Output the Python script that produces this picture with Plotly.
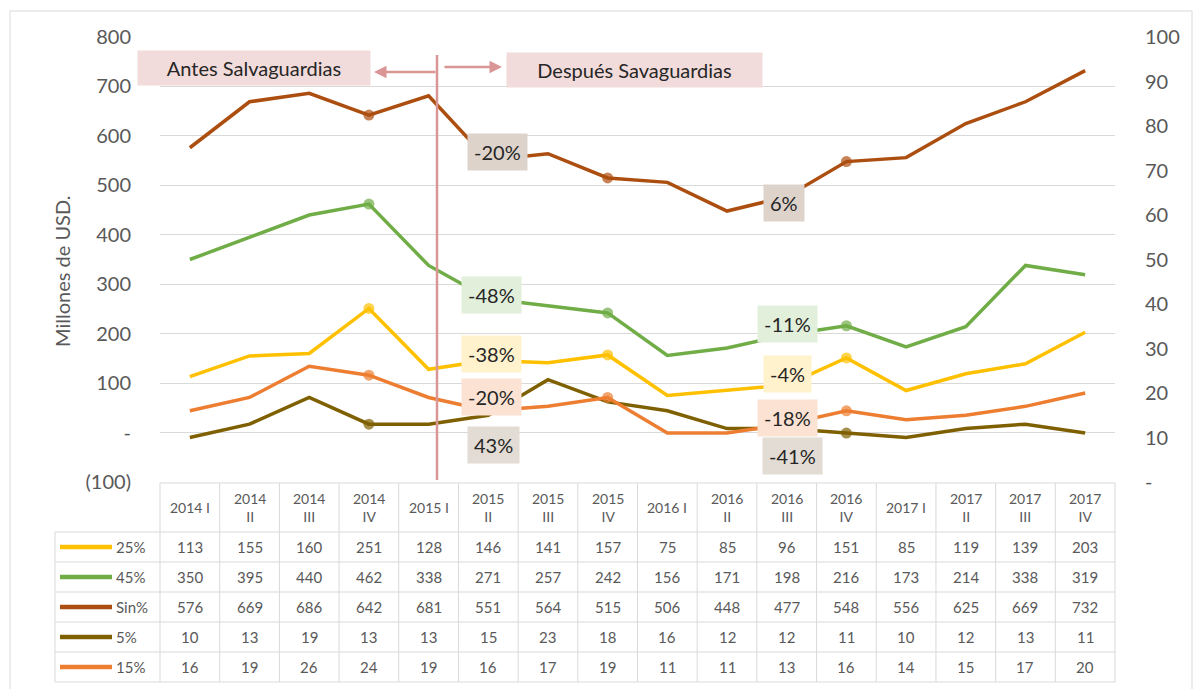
import plotly.graph_objects as go

# ---------------- data ----------------
years = ["2014", "2014", "2014", "2014", "2015", "2015", "2015", "2015",
         "2016", "2016", "2016", "2016", "2017", "2017", "2017", "2017"]
quarters = ["I", "II", "III", "IV"] * 4
series_names = ["25%", "45%", "Sin%", "5%", "15%"]
s25 = [113, 155, 160, 251, 128, 146, 141, 157, 75, 85, 96, 151, 85, 119, 139, 203]
s45 = [350, 395, 440, 462, 338, 271, 257, 242, 156, 171, 198, 216, 173, 214, 338, 319]
s_sin = [576, 669, 686, 642, 681, 551, 564, 515, 506, 448, 477, 548, 556, 625, 669, 732]
s5 = [10, 13, 19, 13, 13, 15, 23, 18, 16, 12, 12, 11, 10, 12, 13, 11]
s15 = [16, 19, 26, 24, 19, 16, 17, 19, 11, 11, 13, 16, 14, 15, 17, 20]
left_ticks = [-100, 0, 100, 200, 300, 400, 500, 600, 700, 800]
left_ticktext = ["(100)", "-", "100", "200", "300", "400", "500", "600", "700", "800"]
right_ticks = [0, 10, 20, 30, 40, 50, 60, 70, 80, 90, 100]
right_ticktext = ["-", "10", "20", "30", "40", "50", "60", "70", "80", "90", "100"]
pct_labels_before = ["-20%", "-48%", "-38%", "-20%", "43%"]   # Sin%, 45%, 25%, 15%, 5%
pct_labels_after = ["6%", "-11%", "-4%", "-18%", "-41%"]

# ---------------- styling ----------------
W, H = 1200, 689
FONT = "Lato"
GRAY = "#595959"
colors = {"25%": "#FFC000", "45%": "#70AD47", "Sin%": "#AC4E0F", "5%": "#7F6000", "15%": "#ED7D31"}
values = {"25%": s25, "45%": s45, "Sin%": s_sin, "5%": s5, "15%": s15}
axis_of = {"25%": "y", "45%": "y", "Sin%": "y", "5%": "y2", "15%": "y2"}
dots = {"25%": [3, 7, 11], "45%": [3, 7, 11], "Sin%": [3, 7, 11], "5%": [3, 11], "15%": [3, 7, 11]}

X0, X1 = 160, 1115      # plot area in px
YT, YB = 37, 482
NC = len(s25)
CW = (X1 - X0) / NC


def fx(p):
    return p / W


def fy(p):
    return 1 - p / H


xs = list(range(NC))
fig = go.Figure()
for name in series_names:
    sizes = [11 if i in dots[name] else 0 for i in xs]
    fig.add_trace(go.Scatter(
        x=xs, y=values[name], name=name, yaxis=axis_of[name],
        mode="lines+markers",
        line=dict(color=colors[name], width=3.5),
        marker=dict(size=sizes, color=colors[name], line=dict(width=0)),
        showlegend=False, hoverinfo="skip"))

shapes = []
annotations = []

# outer border
shapes.append(dict(type="rect", xref="paper", yref="paper", x0=fx(10), x1=fx(1192), y0=fy(700), y1=fy(11),
                   line=dict(color="#d9d9d9", width=1)))

# ----- data table -----
TB_TOP, HDR_BOT = 483, 532
ROW_H = 30
LBL_L = 55
grid = "#d9d9d9"
row_bounds = [HDR_BOT + ROW_H * k for k in range(len(series_names) + 1)]
shapes.append(dict(type="line", xref="paper", yref="paper", x0=fx(X0), x1=fx(X1), y0=fy(TB_TOP), y1=fy(TB_TOP),
                   line=dict(color=grid, width=1)))
for yb in row_bounds:
    shapes.append(dict(type="line", xref="paper", yref="paper", x0=fx(LBL_L), x1=fx(X1), y0=fy(yb), y1=fy(yb),
                       line=dict(color=grid, width=1)))
for c in range(NC + 1):
    xp = X0 + c * CW
    shapes.append(dict(type="line", xref="paper", yref="paper", x0=fx(xp), x1=fx(xp),
                       y0=fy(TB_TOP), y1=fy(row_bounds[-1]), line=dict(color=grid, width=1)))
shapes.append(dict(type="line", xref="paper", yref="paper", x0=fx(LBL_L), x1=fx(LBL_L),
                   y0=fy(HDR_BOT), y1=fy(row_bounds[-1]), line=dict(color=grid, width=1)))

for c in range(NC):
    cx = X0 + (c + 0.5) * CW
    q = quarters[c]
    txt = f"{years[c]} {q}" if q == "I" else f"{years[c]}<br>{q}"
    annotations.append(dict(x=fx(cx), y=fy((TB_TOP + HDR_BOT) / 2), xref="paper", yref="paper",
                            text=txt, showarrow=False, font=dict(family=FONT, size=14, color=GRAY),
                            xanchor="center", yanchor="middle"))
    for r, name in enumerate(series_names):
        cy = row_bounds[r] + ROW_H / 2
        annotations.append(dict(x=fx(cx), y=fy(cy), xref="paper", yref="paper",
                                text=str(values[name][c]), showarrow=False,
                                font=dict(family=FONT, size=15, color=GRAY),
                                xanchor="center", yanchor="middle"))

for r, name in enumerate(series_names):
    cy = row_bounds[r] + ROW_H / 2
    shapes.append(dict(type="line", xref="paper", yref="paper", x0=fx(60), x1=fx(112), y0=fy(cy), y1=fy(cy),
                       line=dict(color=colors[name], width=4.5)))
    annotations.append(dict(x=fx(114), y=fy(cy), xref="paper", yref="paper", text=name, showarrow=False,
                            font=dict(family=FONT, size=15, color=GRAY), xanchor="left", yanchor="middle"))

# ----- safeguard separator -----
SEP = "#D99694"
shapes.append(dict(type="line", xref="paper", yref="paper", x0=fx(437), x1=fx(437), y0=fy(55), y1=fy(480),
                   line=dict(color=SEP, width=2.5)))
annotations.append(dict(x=fx(374), y=fy(72), xref="paper", yref="paper", ax=63, ay=0, axref="pixel", ayref="pixel",
                        text="", showarrow=True, arrowhead=2, arrowsize=1, arrowwidth=2.5, arrowcolor=SEP))
annotations.append(dict(x=fx(502), y=fy(67), xref="paper", yref="paper", ax=-59, ay=0, axref="pixel", ayref="pixel",
                        text="", showarrow=True, arrowhead=2, arrowsize=1, arrowwidth=2.5, arrowcolor=SEP))
annotations.append(dict(x=fx(254), y=fy(68), xref="paper", yref="paper", text="Antes Salvaguardias",
                        showarrow=False, bgcolor="#F2DCDB", width=230, height=32,
                        xanchor="center", yanchor="middle",
                        font=dict(family=FONT, size=20, color="#262626")))
annotations.append(dict(x=fx(634), y=fy(70), xref="paper", yref="paper", text="Después Savaguardias",
                        showarrow=False, bgcolor="#F2DCDB", width=253, height=32,
                        xanchor="center", yanchor="middle",
                        font=dict(family=FONT, size=20, color="#262626")))

# ----- percent change labels -----
lbl_bg = ["#DDD3CB", "#E2EFDA", "#FFF2CC", "#FBE2D2", "#E2DCD4"]
pos_before = [(497, 152), (492, 295), (492, 354), (492, 397), (493, 445)]
pos_after = [(784, 203), (787, 324), (787, 374), (787, 418), (792, 456)]
for k in range(5):
    for txt, (px, py) in ((pct_labels_before[k], pos_before[k]), (pct_labels_after[k], pos_after[k])):
        annotations.append(dict(x=fx(px), y=fy(py), xref="paper", yref="paper", text=txt, showarrow=False,
                                bgcolor=lbl_bg[k], borderpad=6, xanchor="center", yanchor="middle",
                                font=dict(family=FONT, size=20, color="#262626")))

# y axis title
annotations.append(dict(x=fx(62), y=fy(272), xref="paper", yref="paper", text="Millones de USD.",
                        textangle=-90, showarrow=False, xanchor="center", yanchor="middle",
                        font=dict(family=FONT, size=20, color=GRAY)))

fig.update_layout(
    width=W, height=H,
    margin=dict(l=0, r=0, t=0, b=0, autoexpand=False),
    paper_bgcolor="white", plot_bgcolor="white",
    xaxis=dict(domain=[fx(X0), fx(X1)], range=[-0.5, NC - 0.5], showticklabels=False, showgrid=False,
               zeroline=False, showline=False, fixedrange=True),
    yaxis=dict(domain=[fy(YB), fy(YT)], range=[-100, 800], tickvals=left_ticks, ticktext=left_ticktext,
               gridcolor="#d9d9d9", gridwidth=1, zeroline=False, showline=False,
               ticks="outside", ticklen=24, tickcolor="rgba(0,0,0,0)",
               tickfont=dict(family=FONT, size=20, color=GRAY), fixedrange=True),
    yaxis2=dict(overlaying="y", side="right", range=[0, 100], tickvals=right_ticks, ticktext=right_ticktext,
                showgrid=False, zeroline=False, showline=False,
                ticks="outside", ticklen=25, tickcolor="rgba(0,0,0,0)",
                tickfont=dict(family=FONT, size=20, color=GRAY), fixedrange=True),
    shapes=shapes, annotations=annotations,
)

fig.write_html("out.html", config={"displayModeBar": False},
               post_script="document.body.style.margin='0';")
